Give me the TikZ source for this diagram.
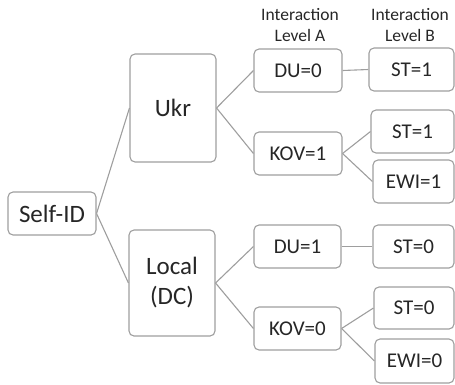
\documentclass[tikz,border=0pt]{standalone}
\usepackage{fontspec}
\setmainfont{Carlito}
\begin{document}
\begin{tikzpicture}[x=1pt,y=-1pt,
  box/.style={draw=black!38, line width=1.1pt, rounded corners=5pt, inner sep=0pt, align=center, text=black!85},
  big/.style={box, font=\fontsize{25}{30}\selectfont},
  small/.style={box, font=\fontsize{21}{24}\selectfont},
  hdr/.style={align=center, inner sep=0pt, text=black!85, font=\fontsize{17.5}{21.5}\selectfont},
  link/.style={draw=black!38, line width=1.1pt}]
\useasboundingbox (0,0) rectangle (455,384);
\node[big, minimum width=88pt, minimum height=43pt] (self) at (52,213.5) {Self-ID};
\node[big, minimum width=86pt, minimum height=108pt] (ukr) at (173,108) {Ukr};
\node[big, minimum width=86pt, minimum height=106pt] (loc) at (172,283) {Local\\(DC)};
\node[small, minimum width=88pt, minimum height=43pt] (du0) at (298,70.5) {DU=0};
\node[small, minimum width=88pt, minimum height=43pt] (kov1) at (298,153.5) {KOV=1};
\node[small, minimum width=87pt, minimum height=43pt] (du1) at (297.5,246.5) {DU=1};
\node[small, minimum width=87pt, minimum height=43pt] (kov0) at (297.5,328.5) {KOV=0};
\node[small, minimum width=85pt, minimum height=43pt] (st1a) at (411.5,69.5) {ST=1};
\node[small, minimum width=83pt, minimum height=43pt] (st1b) at (412.5,131.5) {ST=1};
\node[small, minimum width=81pt, minimum height=43pt] (ewi1) at (413.5,181.5) {EWI=1};
\node[small, minimum width=81pt, minimum height=43pt] (st0a) at (413.5,246.5) {ST=0};
\node[small, minimum width=80pt, minimum height=42pt] (st0b) at (414,308) {ST=0};
\node[small, minimum width=79pt, minimum height=44pt] (ewi0) at (414.5,361) {EWI=0};
\node[hdr] (ha) at (300,25) {Interaction\\Level A};
\node[hdr] (hb) at (410,25) {Interaction\\Level B};
\draw[link] (self.east) -- (ukr.west);
\draw[link] (self.east) -- (loc.west);
\draw[link] (ukr.east) -- (du0.west);
\draw[link] (ukr.east) -- (kov1.west);
\draw[link] (loc.east) -- (du1.west);
\draw[link] (loc.east) -- (kov0.west);
\draw[link] (du0.east) -- (st1a.west);
\draw[link] (kov1.east) -- (st1b.west);
\draw[link] (kov1.east) -- (ewi1.west);
\draw[link] (du1.east) -- (st0a.west);
\draw[link] (kov0.east) -- (st0b.west);
\draw[link] (kov0.east) -- (ewi0.west);
\end{tikzpicture}
\end{document}
